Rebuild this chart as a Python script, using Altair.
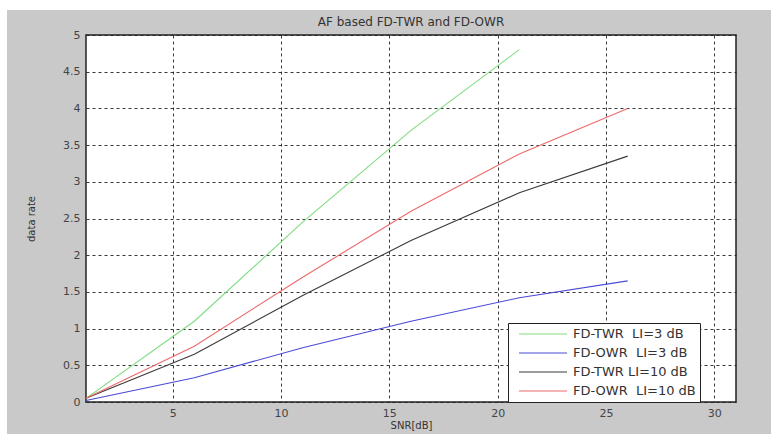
import altair as alt
import pandas as pd

snr = [1, 6, 11, 16, 21, 26]
twr_li3 = [0.05, 1.1, 2.45, 3.7, 4.8]          # FD-TWR LI=3 dB (to SNR 21)
owr_li3 = [0.02, 0.33, 0.74, 1.1, 1.42, 1.65]  # FD-OWR LI=3 dB
twr_li10 = [0.05, 0.65, 1.45, 2.2, 2.85, 3.35] # FD-TWR LI=10 dB
owr_li10 = [0.05, 0.76, 1.7, 2.6, 3.38, 4.0]   # FD-OWR LI=10 dB

NB = "\u00a0"
names = ["FD-TWR" + NB + " LI=3 dB", "FD-OWR" + NB + " LI=3 dB",
         "FD-TWR LI=10 dB", "FD-OWR" + NB + " LI=10 dB"]
colors = ["#7fdc7f", "#4a4ad8", "#3a3a3a", "#ee6a6a"]
x_ticks = [5, 10, 15, 20, 25, 30]
y_ticks = [0, 0.5, 1, 1.5, 2, 2.5, 3, 3.5, 4, 4.5, 5]

rows = []
for name, vals in zip(names, [twr_li3, owr_li3, twr_li10, owr_li10]):
    for i, v in enumerate(vals):
        rows.append({"snr": snr[i], "rate": v, "series": name, "order": i})
df = pd.DataFrame(rows)

FONT = "DejaVu Sans"

lines = alt.Chart(df).mark_line(strokeWidth=1.1).encode(
    x=alt.X("snr:Q", scale=alt.Scale(domain=[1, 31], nice=False, zero=False),
            axis=alt.Axis(values=x_ticks, title="SNR[dB]", grid=True)),
    y=alt.Y("rate:Q", scale=alt.Scale(domain=[0, 5], nice=False),
            axis=alt.Axis(values=y_ticks, title="data rate", format="~g", grid=True)),
    color=alt.Color("series:N", sort=names,
                    scale=alt.Scale(domain=names, range=colors),
                    legend=alt.Legend(title=None, orient="none", legendX=422, legendY=288,
                                      symbolType="M-7,0H1", symbolSize=144, symbolStrokeWidth=1.1,
                                      labelFontSize=13, labelColor="#333333", labelFont=FONT,
                                      rowPadding=5, padding=4, fillColor="white",
                                      strokeColor="#222222", symbolOffset=42, labelOffset=5,
                                      labelLimit=250)),
    order="order:Q",
)

# white margins at top and left of the figure (outside the grey figure area)
band = pd.DataFrame({"k": [0]})
top_band = alt.Chart(band).mark_rect(color="white").encode(
    x=alt.value(-86), x2=alt.value(685), y=alt.value(-35), y2=alt.value(-25))
left_band = alt.Chart(band).mark_rect(color="white").encode(
    x=alt.value(-86), x2=alt.value(-79), y=alt.value(-35), y2=alt.value(399))

chart = alt.layer(top_band, left_band, lines).properties(
    width=650, height=367,
    title=alt.TitleParams("AF based FD-TWR and FD-OWR", fontSize=12, fontWeight="normal",
                          color="#333333", font=FONT, offset=-29),
    autosize=alt.AutoSizeParams(type="none"),
    padding={"left": 86, "top": 35, "right": 35, "bottom": 32},
    background="#c9c9c9",
).configure_view(
    fill="white", stroke="#222222", strokeWidth=1.5
).configure_axis(
    gridColor="#222222", gridDash=[3, 3], gridOpacity=0.9, gridWidth=1,
    domain=False, ticks=False,
    labelFont=FONT, labelFontSize=11, labelColor="#444444",
    titleFont=FONT, titleFontSize=10, titleColor="#333333", titleFontWeight="normal",
).configure_axisX(
    labelPadding=5, titlePadding=2
).configure_axisY(
    labelPadding=6, titlePadding=26
)

chart.save("out.html", embed_options={"renderer": "svg", "actions": False})
